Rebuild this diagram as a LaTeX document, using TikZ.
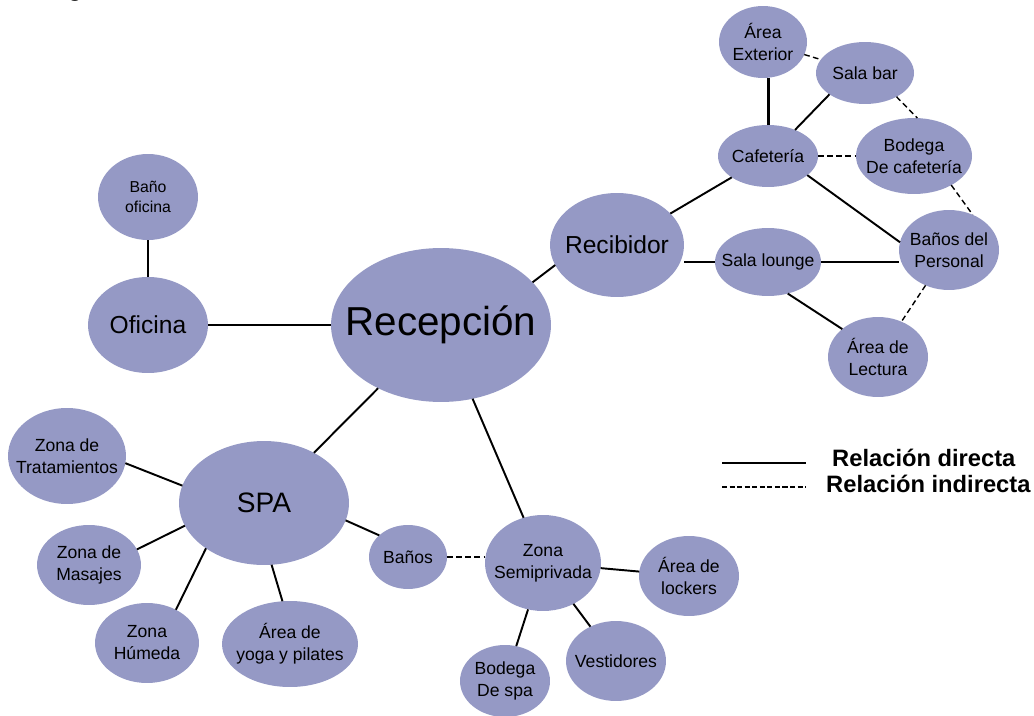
\documentclass[tikz,border=0pt]{standalone}
\usepackage{fontspec}
\setmainfont{Liberation Sans}
\usetikzlibrary{shapes.geometric}
\definecolor{lila}{RGB}{149,153,197}
\newcommand{\chico}{\fontsize{10}{12.5}\selectfont}
\begin{document}
\begin{tikzpicture}[x=0.02cm,y=-0.02cm,
    zona/.style 2 args={ellipse,fill=lila,inner sep=0pt,outer sep=0pt,
      minimum width=#1cm,minimum height=#2cm},
    etiq/.style={align=center,inner sep=0pt,font=\chico},
    con/.style={line width=1.1pt},
    congrueso/.style={line width=1.7pt},
    indirecta/.style={line width=0.8pt,dash pattern=on 3.2pt off 2pt}]
    \useasboundingbox (0,0) rectangle (1034,716);
    \node[anchor=base,font=\bfseries\fontsize{13}{15}\selectfont] (titulo) at (75,-3) {g};

    % centro
    \node[zona={4.4}{3.08},label={[etiq,font=\fontsize{23}{27}\selectfont]center:Recepción}] (rec) at (441,325) {};
    \node[zona={2.4}{1.92},label={[etiq,font=\fontsize{14}{17}\selectfont]center:Oficina}] (ofi) at (148,325) {};
    \node[zona={2.0}{1.72},label={[etiq,font=\fontsize{9}{11.5}\selectfont]center:Baño\\oficina}] (banoofi) at (148,197) {};

    % recibidor y cafeteria
    \node[zona={2.68}{2.08},label={[etiq,font=\fontsize{14}{17}\selectfont]center:Recibidor}] (recib) at (617,245) {};
    \node[zona={2.0}{1.24},label={[etiq]center:Cafetería}] (cafe) at (768,156) {};
    \node[zona={1.76}{1.44},label={[etiq]center:Área\\Exterior}] (ext) at (763,42) {};
    \node[zona={1.96}{1.24},label={[etiq]center:Sala bar}] (bar) at (865,73) {};
    \node[zona={2.32}{1.52},label={[etiq]center:Bodega\\De cafetería}] (bodcaf) at (914,156) {};
    \node[zona={2.0}{1.6},label={[etiq]center:Baños del\\Personal}] (pers) at (949,250) {};
    \node[zona={2.12}{1.36},label={[etiq]center:Sala lounge}] (lounge) at (768,262) {};
    \node[zona={2.0}{1.6},label={[etiq]center:Área de\\Lectura}] (lect) at (878,357) {};

    % spa
    \node[zona={3.4}{2.48},label={[etiq,font=\fontsize{16}{19}\selectfont]center:SPA}] (spa) at (264,503) {};
    \node[zona={2.36}{1.92},label={[etiq]center:Zona de\\Tratamientos}] (trat) at (67,456) {};
    \node[zona={2.08}{1.6},label={[etiq]center:Zona de\\Masajes}] (mas) at (89,565) {};
    \node[zona={2.08}{1.6},label={[etiq]center:Zona\\Húmeda}] (hum) at (147,643) {};
    \node[zona={2.72}{1.72},label={[etiq]center:Área de\\yoga y pilates}] (yoga) at (290,644) {};
    \node[zona={1.56}{1.28},label={[etiq]center:Baños}] (banos) at (408,557) {};

    % zona semiprivada
    \node[zona={2.32}{1.92},label={[etiq]center:Zona\\Semiprivada}] (semi) at (543,563) {};
    \node[zona={2.0}{1.6},label={[etiq]center:Área de\\lockers}] (lock) at (689,576) {};
    \node[zona={2.0}{1.6},label={[etiq]center:Vestidores}] (vest) at (616,661) {};
    \node[zona={1.8}{1.44},label={[etiq]center:Bodega\\De spa}] (bodspa) at (505,681) {};

    % relaciones directas
    \foreach \a/\b in {rec.west/ofi, ofi/banoofi, rec.25/recib.198, rec/spa, rec/semi,
        recib/cafe, cafe.44/bar.-149, cafe.-26/pers.171, lounge.-58/lect.142,
        trat.-7/spa.168, mas.18/spa.196, hum.49/spa.218, yoga.100/spa.-83,
        spa.-12/banos.143, semi/lock, semi/vest, semi/bodspa}{
      \draw[con] (\a) -- (\b);
    }
    \draw[congrueso] (cafe.north) -- (cafe.north |- ext.south);
    \draw[congrueso] (lounge.west) -- (lounge.west -| recib.east);
    \draw[congrueso] (lounge.east) -- (lounge.east -| pers.west);

    % relaciones indirectas
    \foreach \a/\b in {ext/bar, bar.-37/bodcaf.85, cafe.east/bodcaf.west,
        bodcaf.-38/pers.56, pers/lect}{
      \draw[indirecta] (\a) -- (\b);
    }
    \draw[indirecta] (banos.east) -- (banos.east -| semi.west);

    % leyenda
    \coordinate (l1a) at (722,463);
    \coordinate (l1b) at (806,463);
    \coordinate (l2a) at (722,487);
    \coordinate (l2b) at (806,487);
    \draw[line width=0.6pt] (l1a) -- (l1b);
    \draw[line width=1.3pt,dash pattern=on 2.9pt off 1.4pt] (l2a) -- (l2b);
    \node[anchor=west,font=\bfseries\fontsize{13.5}{16}\selectfont] (ldir) at (826,458) {Relación directa};
    \node[anchor=west,font=\bfseries\fontsize{13.5}{16}\selectfont] (lind) at (820,484) {Relación indirecta};
  \end{tikzpicture}
\end{document}
